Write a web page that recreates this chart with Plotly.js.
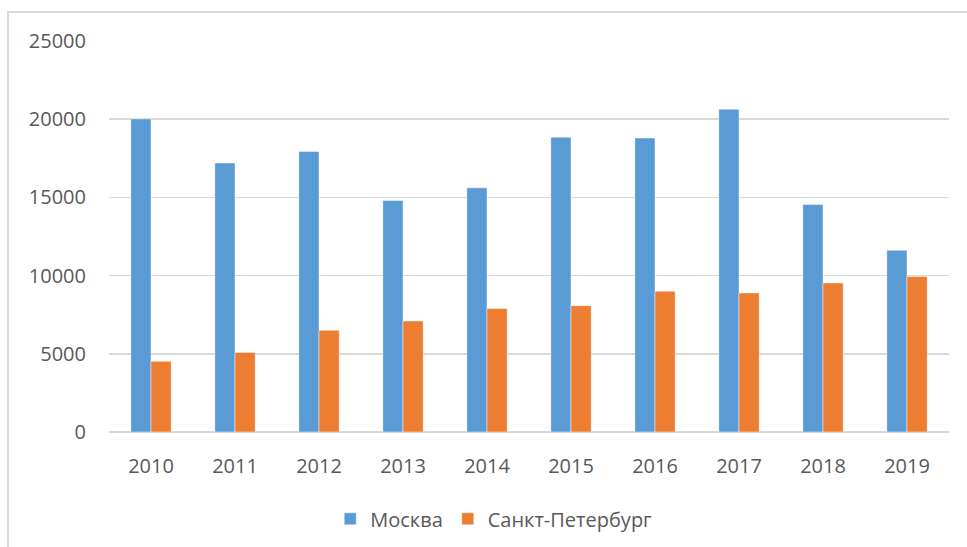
<!DOCTYPE html>
<html>
<head>
<meta charset="utf-8">
<script src="https://cdn.plot.ly/plotly-3.0.1.min.js"></script>
<style>
  html, body { margin: 0; padding: 0; background: #fff; }
  #chart { width: 967px; height: 547px; position: absolute; left: 0; top: 0; }
  #frame { position: absolute; left: 7px; top: 11px; width: 1000px; height: 600px;
           border-left: 2px solid #d9d9d9; border-top: 2px solid #d9d9d9; pointer-events: none; }
</style>
</head>
<body>
<div id="chart"></div>
<div id="frame"></div>
<script>
const years = ['2010','2011','2012','2013','2014','2015','2016','2017','2018','2019'];
const moscow = [20020, 17200, 17930, 14800, 15610, 18850, 18800, 20640, 14540, 11620];
const spb = [4520, 5080, 6500, 7100, 7890, 8080, 9000, 8890, 9530, 9940];
const seriesNames = ['Москва', 'Санкт-Петербург'];
const yTicks = [0, 5000, 10000, 15000, 20000, 25000];

const font = {family: 'Open Sans, sans-serif', size: 20, color: '#595959'};

const traces = [
  {type: 'bar', x: years, y: moscow, name: seriesNames[0],
   marker: {color: '#5B9BD5', line: {color: 'rgba(255,255,255,0.6)', width: 0.75}}},
  {type: 'bar', x: years, y: spb, name: seriesNames[1],
   marker: {color: '#ED7D31', line: {color: 'rgba(255,255,255,0.6)', width: 0.75}}}
];

const layout = {
  width: 967, height: 547,
  margin: {l: 109, r: 18, t: 41, b: 115, autoexpand: false},
  paper_bgcolor: 'rgba(0,0,0,0)', plot_bgcolor: '#fff',
  font: font,
  barmode: 'group', bargap: 0.52, bargroupgap: 0,
  showlegend: true,
  legend: {orientation: 'h', x: 0.458, xanchor: 'center', y: -0.222, yanchor: 'middle',
           font: font, itemwidth: 30, traceorder: 'normal'},
  xaxis: {type: 'category', showgrid: false, zeroline: false, showline: false, automargin: false,
          ticks: '', ticklabelstandoff: 20, tickfont: font},
  yaxis: {range: [0, 25000], tickvals: yTicks, ticktext: yTicks.map(String), automargin: false,
          showgrid: true, gridcolor: '#d9d9d9', gridwidth: 1.5,
          zeroline: true, zerolinecolor: '#d9d9d9', zerolinewidth: 1.5,
          showline: false, ticks: '', ticklabelstandoff: 22, tickfont: font}
};

Plotly.newPlot('chart', traces, layout, {displayModeBar: false, staticPlot: true});
</script>
</body>
</html>
